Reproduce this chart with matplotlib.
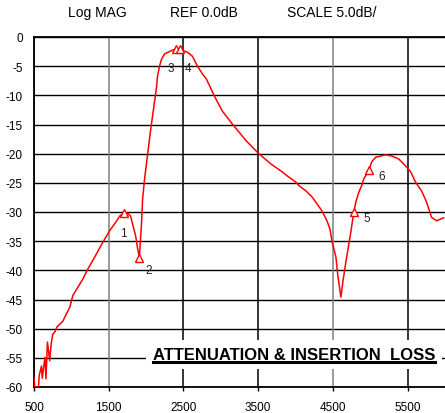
import matplotlib
matplotlib.use("Agg")
import matplotlib.pyplot as plt
from matplotlib.lines import Line2D

plt.rcParams['font.family'] = ['Liberation Sans', 'DejaVu Sans']

# trace (MHz, dB)
freq = [500, 510, 560, 570, 600, 610, 647, 660, 680, 710, 730, 750, 780, 807, 847,
        887, 913, 980, 1020, 1073, 1153, 1220, 1313, 1407, 1513, 1607, 1647, 1700,
        1753, 1793, 1820, 1860, 1887, 1910, 1940, 1953, 1980, 2060, 2140, 2153,
        2180, 2207, 2247, 2313, 2400, 2450, 2487, 2553, 2620, 2687, 2753, 2807,
        2913, 3020, 3153, 3340, 3500, 3673, 3820, 3887, 4007, 4047, 4140, 4220,
        4287, 4353, 4420, 4460, 4487, 4540, 4567, 4607, 4633, 4673, 4740, 4780,
        4807, 4847, 4887, 4913, 4953, 4980, 5020, 5073, 5140, 5207, 5287, 5380,
        5473, 5540, 5607, 5687, 5753, 5820, 5887, 5980]
mag = [-58.3, -60.0, -60.0, -58.0, -56.4, -58.5, -54.9, -58.6, -52.3, -55.5, -52.6,
       -51.0, -50.5, -49.7, -49.2, -48.7, -48.0, -46.3, -44.3, -43.2, -41.5, -39.8,
       -37.7, -35.5, -33.2, -31.5, -30.7, -30.2, -30.2, -30.7, -32.1, -34.1, -36.3,
       -37.8, -31.7, -27.8, -24.3, -16.0, -8.6, -6.7, -5.0, -3.8, -2.9, -2.5,
       -2.0, -2.0, -2.3, -2.6, -3.3, -5.0, -6.3, -7.2, -10.1, -12.7, -14.9,
       -17.8, -19.9, -21.8, -23.1, -23.8, -24.9, -25.5, -26.4, -27.4, -28.6,
       -29.8, -31.5, -32.9, -35.0, -37.7, -41.0, -44.6, -42.0, -38.6, -33.4,
       -30.0, -28.3, -26.6, -25.4, -24.3, -23.5, -22.8, -21.4, -20.6, -20.4,
       -20.2, -20.4, -20.9, -22.1, -23.1, -24.9, -26.4, -28.3, -30.9, -31.5, -31.0]

marker_freq = [1700, 1910, 2400, 2450, 4780, 4980]
marker_mag = [-30.2, -37.8, -2.0, -2.0, -30.0, -22.8]
marker_labels = ['1', '2', '3', '4', '5', '6']
label_offsets = [(0, -14), (7, -9), (-4, -14), (6, -14), (9, -4), (9, -4)]

xticks = [500, 1500, 2500, 3500, 4500, 5500]
yticks = list(range(0, -61, -5))

fig = plt.figure(figsize=(4.45, 4.14), dpi=100)
ax = fig.add_axes([34 / 445, 26 / 414, 411 / 445, 350 / 414])
ax.set_xlim(500, 6000)
ax.set_ylim(-60, 0)

# grid: horizontal black, verticals alternate dark/gray like the instrument
for y in yticks:
    ax.axhline(y, color='black', lw=1.0, zorder=1)
grid_colors = ['black', '#808080', 'black', 'black', '#808080', 'black']
for x, c in zip(xticks, grid_colors):
    ax.axvline(x, color=c, lw=1.1, zorder=1)

ax.plot(freq, mag, color='red', lw=1.1, zorder=3)
ax.plot(marker_freq, marker_mag, ls='none', marker='^', ms=6, mfc='white',
        mec='red', mew=1.0, zorder=4)
for fx, my, lab, off in zip(marker_freq, marker_mag, marker_labels, label_offsets):
    ax.annotate(lab, (fx, my), xytext=off, textcoords='offset points',
                ha='center', va='center', fontsize=8.5, color='#222222', zorder=5)

ax.set_xticks(xticks)
ax.set_yticks(yticks)
ax.set_xticklabels([str(t) for t in xticks])
ax.set_yticklabels([str(t) for t in yticks])
ax.tick_params(axis='y', length=0, labelsize=8.5, pad=8)
ax.tick_params(axis='x', length=3, width=1, direction='out', labelsize=8.5, pad=7)
for s in ['left', 'bottom', 'top']:
    ax.spines[s].set_linewidth(1.3)
ax.spines['right'].set_visible(False)

txt = ax.text(0.633, 0.094, 'ATTENUATION & INSERTION  LOSS', transform=ax.transAxes,
              ha='center', va='center', fontsize=12, fontweight='bold', zorder=6,
              bbox=dict(facecolor='white', edgecolor='none', pad=5))

fig.text(0.218, 0.969, 'Log MAG', ha='center', va='center', fontsize=10)
fig.text(0.458, 0.969, 'REF 0.0dB', ha='center', va='center', fontsize=10)
fig.text(0.746, 0.969, 'SCALE 5.0dB/', ha='center', va='center', fontsize=10)

# underline the caption
fig.canvas.draw()
bb = txt.get_window_extent().transformed(fig.transFigure.inverted())
fig.add_artist(Line2D([bb.x0, bb.x1], [bb.y0 - 0.002, bb.y0 - 0.002],
                      color='black', lw=2.2, zorder=7))

fig.savefig('out.png', dpi=100)
